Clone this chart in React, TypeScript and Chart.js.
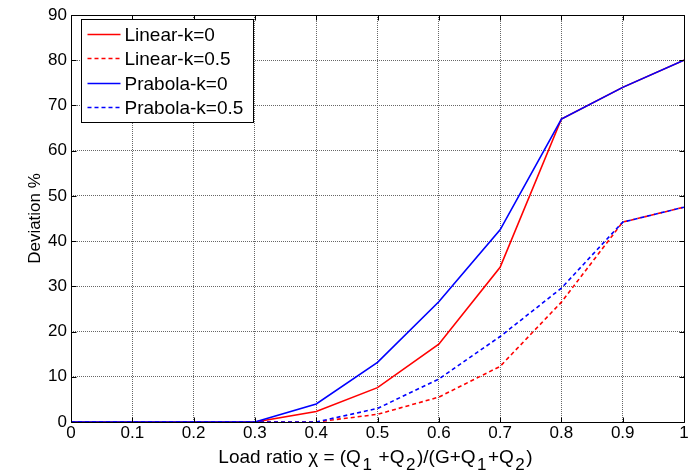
import React, { useEffect, useRef } from 'react';
import { Chart, registerables } from 'chart.js';

Chart.register(...registerables);

const xValues = [0, 0.1, 0.2, 0.3, 0.4, 0.5, 0.6, 0.7, 0.8, 0.9, 1];
const linearK0 = [0, 0, 0, 0, 2.3, 7.6, 17.2, 34.2, 67, 74, 80];
const linearK05 = [0, 0, 0, 0, 0, 1.7, 5.5, 12.3, 26.5, 44.2, 47.5];
const prabolaK0 = [0, 0, 0, 0, 4.0, 13.2, 26.6, 42.5, 67, 74, 80];
const prabolaK05 = [0, 0, 0, 0, 0, 3.0, 9.5, 18.9, 29.6, 44.2, 47.5];

const seriesNames = ['Linear-k=0', 'Linear-k=0.5', 'Prabola-k=0', 'Prabola-k=0.5'];
const xTickLabels = ['0', '0.1', '0.2', '0.3', '0.4', '0.5', '0.6', '0.7', '0.8', '0.9', '1'];
const yTickValues = [0, 10, 20, 30, 40, 50, 60, 70, 80, 90];
const yTitle = 'Deviation %';
// x-axis title pieces: [text, isSubscript]
const xTitleParts: [string, boolean][] = [
  ['Load ratio \u03C7 = (Q', false],
  ['1', true],
  [' +Q', false],
  ['2', true],
  [')/(G+Q', false],
  ['1', true],
  ['+Q', false],
  ['2', true],
  [')', false],
];

const FONT = '"Liberation Sans", Arial, Helvetica, sans-serif';

const toPts = (ys: number[]) => xValues.map((x, i) => ({ x, y: ys[i] }));

const frameAndTicksPlugin = {
  id: 'frameAndTicks',
  afterDatasetsDraw(chart: any) {
    const { ctx, chartArea } = chart;
    const { left, right, top, bottom } = chartArea;
    const xs = chart.scales.x;
    const ys = chart.scales.y;
    ctx.save();
    ctx.strokeStyle = '#000';
    ctx.lineWidth = 1;
    const L = Math.round(left) + 0.5;
    const R = Math.round(right) + 0.5;
    const T = Math.round(top) + 0.5;
    const B = Math.round(bottom) + 0.5;
    ctx.beginPath();
    ctx.rect(L, T, R - L, B - T);
    ctx.stroke();
    const tl = 5;
    ctx.beginPath();
    xs.ticks.forEach((t: any) => {
      const px = Math.round(xs.getPixelForValue(t.value)) + 0.5;
      ctx.moveTo(px, B);
      ctx.lineTo(px, B - tl);
      ctx.moveTo(px, T);
      ctx.lineTo(px, T + tl);
    });
    ys.ticks.forEach((t: any) => {
      const py = Math.round(ys.getPixelForValue(t.value)) + 0.5;
      ctx.moveTo(L, py);
      ctx.lineTo(L + tl, py);
      ctx.moveTo(R, py);
      ctx.lineTo(R - tl, py);
    });
    ctx.stroke();
    ctx.restore();
  },
};

const legendPlugin = {
  id: 'insideLegend',
  afterDraw(chart: any) {
    const { ctx, chartArea } = chart;
    const ds = chart.data.datasets;
    const x0 = chartArea.left + 10.5;
    const y0 = chartArea.top + 4.5;
    const w = 172;
    const h = 103;
    ctx.save();
    ctx.fillStyle = '#fff';
    ctx.fillRect(x0, y0, w, h);
    ctx.strokeStyle = '#000';
    ctx.lineWidth = 1;
    ctx.strokeRect(x0, y0, w, h);
    ctx.font = `19px ${FONT}`;
    ctx.textBaseline = 'middle';
    ctx.textAlign = 'left';
    const rowH = 24.6;
    ds.forEach((d: any, i: number) => {
      const cy = Math.round(y0 + 14 + i * rowH) + 0.5;
      ctx.beginPath();
      ctx.strokeStyle = d.borderColor;
      ctx.lineWidth = 1.5;
      ctx.setLineDash(d.borderDash || []);
      ctx.moveTo(x0 + 6, cy);
      ctx.lineTo(x0 + 39, cy);
      ctx.stroke();
      ctx.setLineDash([]);
      ctx.fillStyle = '#000';
      ctx.fillText(d.label, x0 + 43, cy + 1);
    });
    ctx.restore();
  },
};

const xTitlePlugin = {
  id: 'xTitleSub',
  afterDraw(chart: any) {
    const { ctx, chartArea } = chart;
    const mainSize = 19;
    const subSize = 17;
    ctx.save();
    ctx.fillStyle = '#000';
    ctx.textBaseline = 'alphabetic';
    ctx.textAlign = 'left';
    let total = 0;
    xTitleParts.forEach(([t, sub]) => {
      ctx.font = `${sub ? subSize : mainSize}px ${FONT}`;
      total += ctx.measureText(t).width + (sub ? 3 : 0);
    });
    let x = (chartArea.left + chartArea.right) / 2 - total / 2 - 2;
    const baseY = chartArea.bottom + 41;
    xTitleParts.forEach(([t, sub]) => {
      ctx.font = `${sub ? subSize : mainSize}px ${FONT}`;
      if (sub) x += 1.5;
      ctx.fillText(t, x, sub ? baseY + 7 : baseY);
      x += ctx.measureText(t).width + (sub ? 1.5 : 0);
    });
    ctx.restore();
  },
};

export default function App() {
  const ref = useRef<HTMLCanvasElement | null>(null);

  useEffect(() => {
    if (!ref.current) return;
    const colors = ['#ff0000', '#ff0000', '#0000ff', '#0000ff'];
    const dashes = [[], [4, 3], [], [4, 3]];
    const values = [linearK0, linearK05, prabolaK0, prabolaK05];
    const orders = [3, 2, 1, 0];
    const chart = new Chart(ref.current, {
      type: 'line',
      data: {
        datasets: values.map((v, i) => ({
          label: seriesNames[i],
          data: toPts(v),
          borderColor: colors[i],
          backgroundColor: colors[i],
          borderWidth: 1.6,
          borderDash: dashes[i],
          pointRadius: 0,
          tension: 0,
          fill: false,
          order: orders[i],
        })),
      },
      options: {
        animation: false,
        responsive: true,
        maintainAspectRatio: false,
        layout: { padding: { top: 15, right: 14, left: 0, bottom: 0 } },
        plugins: {
          legend: { display: false },
          tooltip: { enabled: false },
        },
        scales: {
          x: {
            type: 'linear',
            min: 0,
            max: 1,
            afterBuildTicks: (scale: any) => {
              scale.ticks = xValues.map((v) => ({ value: v }));
            },
            afterFit: (scale: any) => {
              scale.height = 50;
            },
            ticks: {
              color: '#000',
              font: { family: FONT, size: 17 },
              padding: 1,
              maxRotation: 0,
              autoSkip: false,
              callback: (_v: any, i: number) => xTickLabels[i],
            },
            grid: {
              color: '#666',
              lineWidth: 1,
              drawTicks: false,
            },
            border: { display: false, dash: [1, 1] },
          },
          y: {
            type: 'linear',
            min: 0,
            max: 90,
            afterBuildTicks: (scale: any) => {
              scale.ticks = yTickValues.map((v) => ({ value: v }));
            },
            afterFit: (scale: any) => {
              scale.width = 71;
            },
            ticks: {
              color: '#000',
              font: { family: FONT, size: 17 },
              padding: 4,
              autoSkip: false,
              callback: (v: any) => String(v),
            },
            grid: {
              color: '#666',
              lineWidth: 1,
              drawTicks: false,
            },
            border: { display: false, dash: [1, 1] },
            title: {
              display: true,
              text: yTitle,
              color: '#000',
              font: { family: FONT, size: 17 },
              padding: { top: 25, bottom: 0 },
            },
          },
        },
      },
      plugins: [frameAndTicksPlugin, legendPlugin, xTitlePlugin],
    });
    return () => chart.destroy();
  }, []);

  return (
    <div style={{ position: 'absolute', left: 0, top: 0, width: 698, height: 472, background: '#fff' }}>
      <canvas ref={ref} />
    </div>
  );
}
